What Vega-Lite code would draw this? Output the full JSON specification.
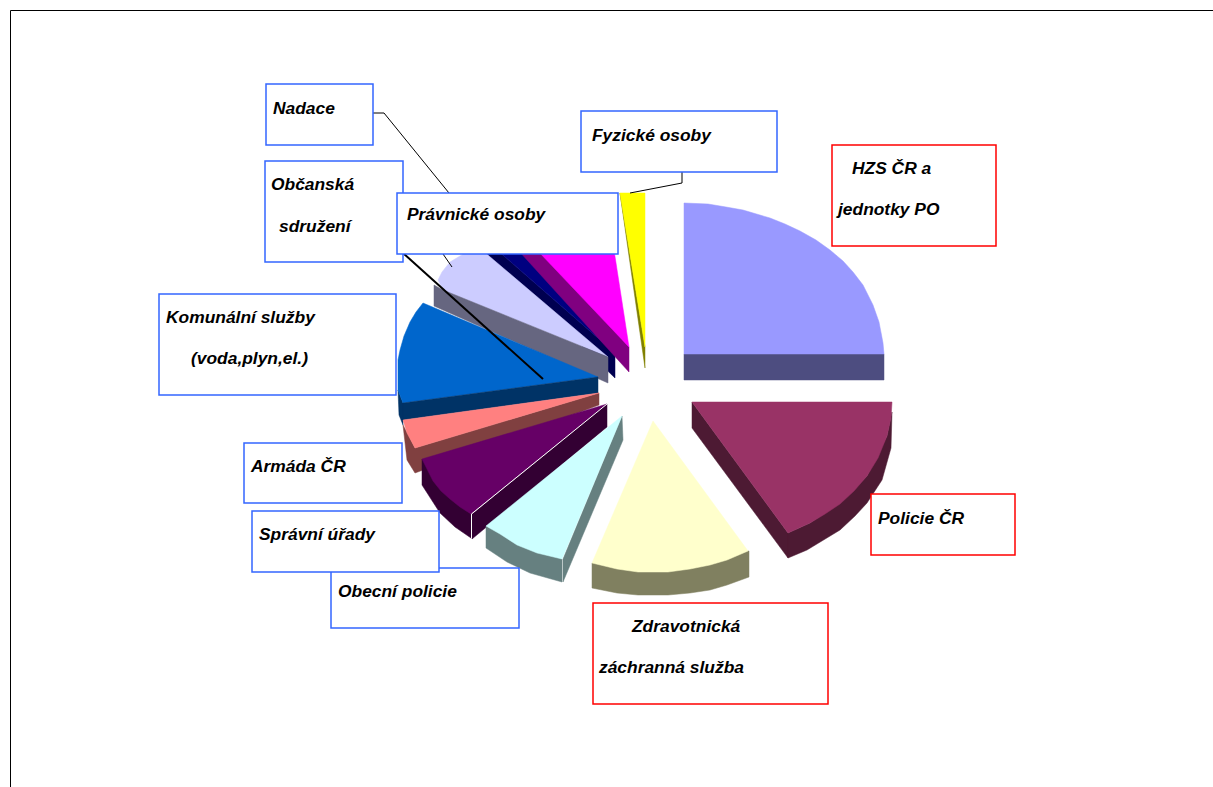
{"$schema":"https://vega.github.io/schema/vega-lite/v6.json","width":1213,"height":787,"autosize":{"type":"none"},"padding":0,"background":"white","config":{"view":{"stroke":null}},
"resolve":{"scale":{"stroke":"independent"}},
"datasets":{
"slices":[
{"s":"yellowSide","i":0,"x":620,"y":193},{"s":"yellowSide","i":1,"x":645,"y":347},{"s":"yellowSide","i":2,"x":645,"y":368},{"s":"yellowSide","i":3,"x":622,"y":207},
{"s":"yellow","i":0,"x":620,"y":193},{"s":"yellow","i":1,"x":645,"y":193},{"s":"yellow","i":2,"x":645,"y":347},
{"s":"navySide","i":0,"x":482,"y":250},{"s":"navySide","i":1,"x":497,"y":250},{"s":"navySide","i":2,"x":615,"y":353},{"s":"navySide","i":3,"x":615,"y":378},
{"s":"navy","i":0,"x":497,"y":250},{"s":"navy","i":1,"x":530,"y":250},{"s":"navy","i":2,"x":615,"y":353},
{"s":"magentaSide","i":0,"x":518,"y":250},{"s":"magentaSide","i":1,"x":542,"y":250},{"s":"magentaSide","i":2,"x":629,"y":347},{"s":"magentaSide","i":3,"x":629,"y":372},
{"s":"magenta","i":0,"x":537,"y":250},{"s":"magenta","i":1,"x":614,"y":250},{"s":"magenta","i":2,"x":629,"y":347},
{"s":"lavender","i":0,"x":470,"y":250},{"s":"lavender","i":1,"x":482,"y":250},{"s":"lavender","i":2,"x":608,"y":357},{"s":"lavender","i":3,"x":443,"y":290},{"s":"lavender","i":4,"x":438,"y":280},{"s":"lavender","i":5,"x":442,"y":272},{"s":"lavender","i":6,"x":450,"y":262},
{"s":"lavenderSide","i":0,"x":434,"y":285},{"s":"lavenderSide","i":1,"x":443,"y":290},{"s":"lavenderSide","i":2,"x":608,"y":357},{"s":"lavenderSide","i":3,"x":608,"y":383},{"s":"lavenderSide","i":4,"x":434,"y":306},
{"s":"blueEdge","i":0,"x":398,"y":390},{"s":"blueEdge","i":1,"x":403,"y":403},{"s":"blueEdge","i":2,"x":403,"y":425},{"s":"blueEdge","i":3,"x":399,"y":415},
{"s":"blue","i":0,"x":423,"y":303},{"s":"blue","i":1,"x":598,"y":377},{"s":"blue","i":2,"x":403,"y":403},{"s":"blue","i":3,"x":398,"y":390},{"s":"blue","i":4,"x":398,"y":360},{"s":"blue","i":5,"x":400,"y":350},{"s":"blue","i":6,"x":404,"y":336},{"s":"blue","i":7,"x":410,"y":322},{"s":"blue","i":8,"x":416,"y":312},
{"s":"blueSide","i":0,"x":403,"y":403},{"s":"blueSide","i":1,"x":598,"y":377},{"s":"blueSide","i":2,"x":598,"y":393},{"s":"blueSide","i":3,"x":403,"y":420},
{"s":"pinkSide","i":0,"x":403,"y":425},{"s":"pinkSide","i":1,"x":415,"y":448},{"s":"pinkSide","i":2,"x":599,"y":393},{"s":"pinkSide","i":3,"x":599,"y":405},{"s":"pinkSide","i":4,"x":415,"y":473},{"s":"pinkSide","i":5,"x":407,"y":460},
{"s":"pink","i":0,"x":403,"y":420},{"s":"pink","i":1,"x":599,"y":393},{"s":"pink","i":2,"x":415,"y":448},{"s":"pink","i":3,"x":407,"y":433},
{"s":"purpleFront","i":0,"x":422,"y":459},{"s":"purpleFront","i":1,"x":471,"y":514},{"s":"purpleFront","i":2,"x":471,"y":538},{"s":"purpleFront","i":3,"x":455,"y":527},{"s":"purpleFront","i":4,"x":440,"y":513},{"s":"purpleFront","i":5,"x":422,"y":485},
{"s":"purple","i":0,"x":422,"y":459},{"s":"purple","i":1,"x":607,"y":404},{"s":"purple","i":2,"x":471,"y":514},{"s":"purple","i":3,"x":460,"y":507},{"s":"purple","i":4,"x":450,"y":499},{"s":"purple","i":5,"x":441,"y":491},{"s":"purple","i":6,"x":433,"y":481},
{"s":"purpleInner","i":0,"x":472,"y":514},{"s":"purpleInner","i":1,"x":607,"y":404},{"s":"purpleInner","i":2,"x":607,"y":427},{"s":"purpleInner","i":3,"x":472,"y":539},
{"s":"cyanFront","i":0,"x":486,"y":526},{"s":"cyanFront","i":1,"x":562,"y":559},{"s":"cyanFront","i":2,"x":562,"y":582},{"s":"cyanFront","i":3,"x":530,"y":573},{"s":"cyanFront","i":4,"x":507,"y":562},{"s":"cyanFront","i":5,"x":486,"y":548},
{"s":"cyanInner","i":0,"x":563,"y":559},{"s":"cyanInner","i":1,"x":622,"y":416},{"s":"cyanInner","i":2,"x":623,"y":440},{"s":"cyanInner","i":3,"x":563,"y":582},
{"s":"cyan","i":0,"x":622,"y":416},{"s":"cyan","i":1,"x":562,"y":559},{"s":"cyan","i":2,"x":537,"y":553},{"s":"cyan","i":3,"x":517,"y":545},{"s":"cyan","i":4,"x":500,"y":534},{"s":"cyan","i":5,"x":486,"y":526},
{"s":"creamSide","i":0,"x":592,"y":563},{"s":"creamSide","i":1,"x":749,"y":551},{"s":"creamSide","i":2,"x":749,"y":577},{"s":"creamSide","i":3,"x":727,"y":585},{"s":"creamSide","i":4,"x":710,"y":590},{"s":"creamSide","i":5,"x":690,"y":593},{"s":"creamSide","i":6,"x":668,"y":595},{"s":"creamSide","i":7,"x":638,"y":595},{"s":"creamSide","i":8,"x":617,"y":593},{"s":"creamSide","i":9,"x":592,"y":588},
{"s":"cream","i":0,"x":653,"y":421},{"s":"cream","i":1,"x":748,"y":551},{"s":"cream","i":2,"x":727,"y":560},{"s":"cream","i":3,"x":710,"y":565},{"s":"cream","i":4,"x":690,"y":569},{"s":"cream","i":5,"x":668,"y":572},{"s":"cream","i":6,"x":638,"y":572},{"s":"cream","i":7,"x":617,"y":569},{"s":"cream","i":8,"x":592,"y":563},
{"s":"maroonInner","i":0,"x":692,"y":402},{"s":"maroonInner","i":1,"x":788,"y":533},{"s":"maroonInner","i":2,"x":788,"y":558},{"s":"maroonInner","i":3,"x":692,"y":428},
{"s":"maroonFront","i":0,"x":788,"y":533},{"s":"maroonFront","i":1,"x":810,"y":523},{"s":"maroonFront","i":2,"x":840,"y":503},{"s":"maroonFront","i":3,"x":867,"y":476},{"s":"maroonFront","i":4,"x":887,"y":436},{"s":"maroonFront","i":5,"x":892,"y":412},{"s":"maroonFront","i":6,"x":891,"y":448},{"s":"maroonFront","i":7,"x":882,"y":480},{"s":"maroonFront","i":8,"x":867,"y":503},{"s":"maroonFront","i":9,"x":855,"y":516},{"s":"maroonFront","i":10,"x":840,"y":530},{"s":"maroonFront","i":11,"x":807,"y":550},{"s":"maroonFront","i":12,"x":788,"y":558},
{"s":"maroon","i":0,"x":692,"y":402},{"s":"maroon","i":1,"x":892,"y":402},{"s":"maroon","i":2,"x":891,"y":418},{"s":"maroon","i":3,"x":887,"y":436},{"s":"maroon","i":4,"x":878,"y":458},{"s":"maroon","i":5,"x":867,"y":476},{"s":"maroon","i":6,"x":854,"y":491},{"s":"maroon","i":7,"x":840,"y":504},{"s":"maroon","i":8,"x":825,"y":514},{"s":"maroon","i":9,"x":810,"y":523},{"s":"maroon","i":10,"x":788,"y":533},
{"s":"periSide","i":0,"x":684,"y":354},{"s":"periSide","i":1,"x":884,"y":354},{"s":"periSide","i":2,"x":884,"y":380},{"s":"periSide","i":3,"x":684,"y":380},
{"s":"peri","i":0,"x":684,"y":203},{"s":"peri","i":1,"x":708,"y":204},{"s":"peri","i":2,"x":726,"y":207},{"s":"peri","i":3,"x":743,"y":210},{"s":"peri","i":4,"x":770,"y":218},{"s":"peri","i":5,"x":785,"y":224},{"s":"peri","i":6,"x":800,"y":231},{"s":"peri","i":7,"x":816,"y":240},{"s":"peri","i":8,"x":830,"y":250},{"s":"peri","i":9,"x":843,"y":261},{"s":"peri","i":10,"x":853,"y":272},{"s":"peri","i":11,"x":863,"y":285},{"s":"peri","i":12,"x":873,"y":305},{"s":"peri","i":13,"x":879,"y":322},{"s":"peri","i":14,"x":883,"y":343},{"s":"peri","i":15,"x":884,"y":354},{"s":"peri","i":16,"x":684,"y":354}
],
"highlights":[
{"x":471.5,"y":514,"x2":607,"y2":404},{"x":471.5,"y":514,"x2":471.5,"y2":538}
],
"leaders":[
{"x":373,"y":113,"x2":384,"y2":113},{"x":384,"y":113,"x2":449,"y2":193},{"x":443,"y":254,"x2":452,"y2":267},{"x":630,"y":193,"x2":682,"y2":183},{"x":682,"y":183,"x2":682,"y2":172}
],
"thick":[{"x":403,"y":253,"x2":543,"y2":379}],
"frame":[{"x":10.5,"y":10.5,"x2":1213,"y2":10.5},{"x":10.5,"y":10.5,"x2":10.5,"y2":787}],
"boxes":[
{"name":"Nadace","kind":"blue","x":266,"x2":373,"y":84,"y2":145},
{"name":"Občanská","kind":"blue","x":265,"x2":403,"y":161,"y2":262},
{"name":"Právnické","kind":"blue","x":397,"x2":618,"y":193,"y2":254},
{"name":"Fyzické","kind":"blue","x":581,"x2":777,"y":111,"y2":172},
{"name":"Komunální","kind":"blue","x":159,"x2":396,"y":294,"y2":395},
{"name":"Armáda","kind":"blue","x":244,"x2":402,"y":443,"y2":503},
{"name":"Obecní","kind":"blue","x":331,"x2":519,"y":568,"y2":628},
{"name":"Správní","kind":"blue","x":252,"x2":439,"y":511,"y2":572},
{"name":"HZS","kind":"red","x":832,"x2":996,"y":145,"y2":246},
{"name":"Policie","kind":"red","x":871,"x2":1015,"y":494,"y2":555},
{"name":"Zdravotnická","kind":"red","x":593,"x2":828,"y":603,"y2":704}
],
"labels":[
{"t":"Nadace","x":273,"y":108},{"t":"Občanská","x":271,"y":184},{"t":"sdružení","x":279,"y":226},{"t":"Právnické osoby","x":407,"y":214},{"t":"Fyzické osoby","x":592,"y":135},{"t":"HZS ČR a","x":852,"y":168},{"t":"jednotky PO","x":838,"y":209},{"t":"Komunální služby","x":166,"y":317},{"t":"(voda,plyn,el.)","x":191,"y":358},{"t":"Armáda ČR","x":251,"y":466},{"t":"Správní úřady","x":259,"y":534},{"t":"Obecní policie","x":338,"y":591},{"t":"Policie ČR","x":878,"y":518},{"t":"Zdravotnická","x":632,"y":626},{"t":"záchranná služba","x":599,"y":667}
]},
"encoding":{
"x":{"field":"x","type":"quantitative","axis":null,"scale":{"domain":[0,1213],"nice":false,"zero":false}},
"y":{"field":"y","type":"quantitative","axis":null,"scale":{"domain":[0,787],"nice":false,"zero":false,"reverse":true}}
},
"layer":[
{"data":{"name":"slices"},"mark":{"type":"line","interpolate":"linear-closed","strokeWidth":0.5},
"encoding":{"order":{"field":"i","type":"quantitative"},
"detail":{"field":"s"},
"fill":{"field":"s","legend":null,"scale":{"domain":["yellowSide","yellow","navySide","navy","magentaSide","magenta","lavender","lavenderSide","blueEdge","blue","blueSide","pinkSide","pink","purpleFront","purple","purpleInner","cyanFront","cyanInner","cyan","creamSide","cream","maroonInner","maroonFront","maroon","periSide","peri"],"range":["#808000","#FFFF00","#000050","#000080","#800080","#FF00FF","#CCCCFF","#666680","#003366","#0066CC","#003366","#804040","#FF8080","#330033","#660066","#330033","#668080","#668080","#CCFFFF","#808060","#FFFFCC","#4D1A33","#4D1A33","#993366","#4D4D80","#9999FF"]}},
"stroke":{"field":"s","legend":null,"scale":{"domain":["yellowSide","yellow","navySide","navy","magentaSide","magenta","lavender","lavenderSide","blueEdge","blue","blueSide","pinkSide","pink","purpleFront","purple","purpleInner","cyanFront","cyanInner","cyan","creamSide","cream","maroonInner","maroonFront","maroon","periSide","peri"],"range":["#808000","#FFFF00","#000050","#000080","#800080","#FF00FF","#CCCCFF","#666680","#003366","#0066CC","#003366","#804040","#FF8080","#330033","#660066","#330033","#668080","#668080","#CCFFFF","#808060","#FFFFCC","#4D1A33","#4D1A33","#993366","#4D4D80","#9999FF"]}}}},
{"data":{"name":"highlights"},"mark":{"type":"rule","color":"#FFFFFF","strokeWidth":1},"encoding":{"x2":{"field":"x2"},"y2":{"field":"y2"}}},
{"data":{"name":"leaders"},"mark":{"type":"rule","color":"#000000","strokeWidth":1},"encoding":{"x2":{"field":"x2"},"y2":{"field":"y2"}}},
{"data":{"name":"thick"},"mark":{"type":"rule","color":"#000000","strokeWidth":2},"encoding":{"x2":{"field":"x2"},"y2":{"field":"y2"}}},
{"data":{"name":"frame"},"mark":{"type":"rule","color":"#000000","strokeWidth":1},"encoding":{"x2":{"field":"x2"},"y2":{"field":"y2"}}},
{"data":{"name":"boxes"},"mark":{"type":"rect","fill":"#FFFFFF","strokeWidth":1.5},"encoding":{"x2":{"field":"x2"},"y2":{"field":"y2"},"stroke":{"field":"kind","legend":null,"scale":{"domain":["blue","red"],"range":["#3366FF","#FF0000"]}}}},
{"data":{"name":"labels"},"mark":{"type":"text","align":"left","baseline":"middle","dy":1,"font":"Liberation Sans","fontSize":17.4,"fontWeight":"bold","fontStyle":"italic","color":"#000000"},"encoding":{"text":{"field":"t"}}}
]}
